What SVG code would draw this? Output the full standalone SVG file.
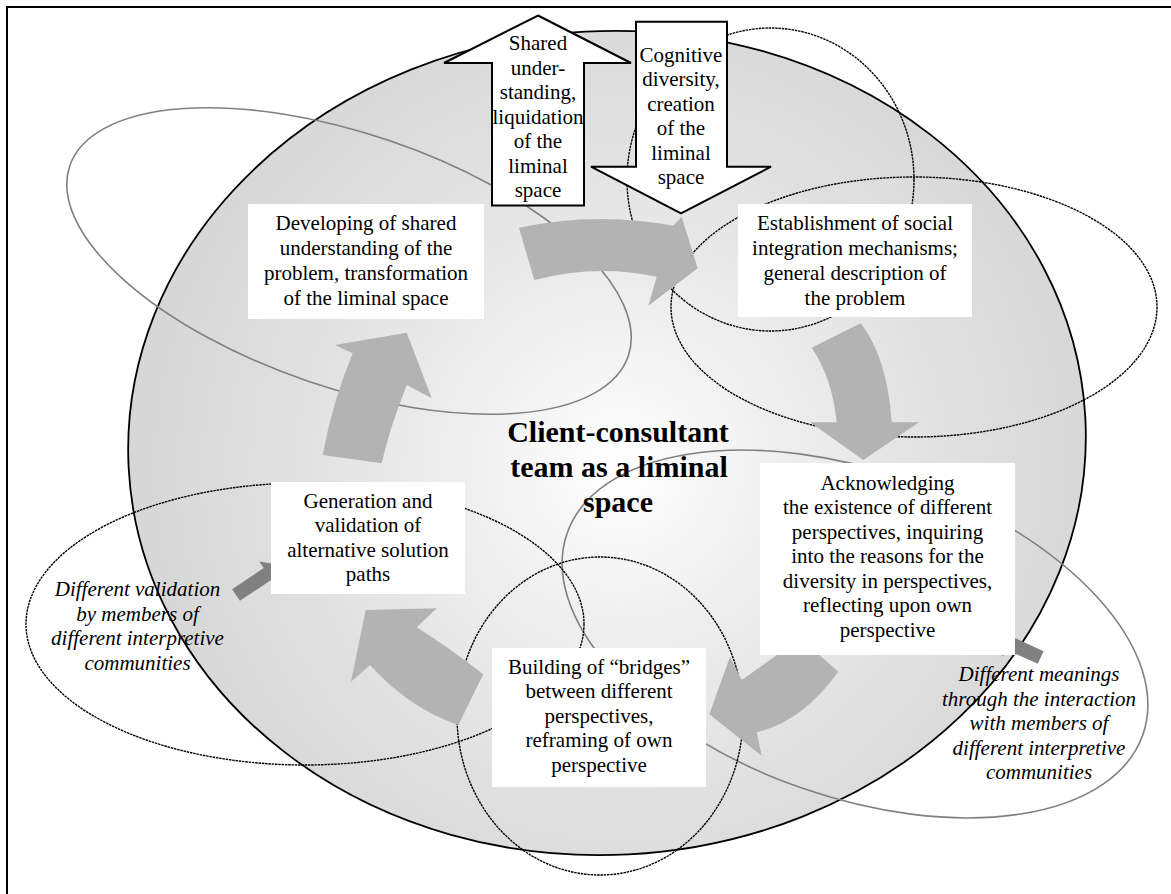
<svg xmlns="http://www.w3.org/2000/svg" width="1171" height="894" viewBox="0 0 1171 894">
  <defs>
    <radialGradient id="teamFill" gradientUnits="userSpaceOnUse" cx="620" cy="470" r="480">
      <stop offset="0" stop-color="#ffffff"/>
      <stop offset="0.35" stop-color="#eeeeee"/>
      <stop offset="0.7" stop-color="#e0e0e0"/>
      <stop offset="1" stop-color="#d7d7d7"/>
    </radialGradient>
    <style>
      text { font-family: "Liberation Serif", "Times New Roman", serif; font-size: 21px; fill: #000; text-anchor: middle; }
      .title { font-weight: bold; font-size: 30px; }
      .note { font-style: italic; }
      .box { fill: #ffffff; }
      .ring-gray { fill: none; stroke: #808080; stroke-width: 1.6; }
      .ring-dot { fill: none; stroke: #000000; stroke-width: 1.4; stroke-dasharray: 2.5 0.8; }
      .flow { fill: #b3b3b3; }
      .hint { fill: #808080; }
      .bigarrow { fill: #ffffff; stroke: #000000; stroke-width: 2; stroke-linejoin: miter; }
    </style>
  </defs>

  <!-- page -->
  <rect x="0" y="0" width="1171" height="894" fill="#ffffff"/>
  <path d="M7,900 V7 H1180" fill="none" stroke="#000" stroke-width="2"/>

  <!-- the team as a liminal space -->
  <g id="team-space">
    <ellipse cx="607" cy="443" rx="479" ry="412" transform="rotate(-3 607 443)" fill="url(#teamFill)" stroke="#000" stroke-width="1.8"/>
  </g>

  <!-- interpretive communities -->
  <g id="communities">
    <ellipse class="ring-gray" cx="349" cy="261" rx="295" ry="127" transform="rotate(18.8 349 261)"/>
    <ellipse class="ring-dot" cx="770.5" cy="179.5" rx="143.5" ry="151.5"/>
    <ellipse class="ring-dot" cx="914" cy="307" rx="243" ry="130"/>
    <ellipse class="ring-gray" cx="855" cy="634" rx="305" ry="163" transform="rotate(19.3 855 634)"/>
    <ellipse class="ring-dot" cx="305" cy="624" rx="279" ry="141"/>
    <ellipse class="ring-dot" cx="600" cy="716" rx="143" ry="159"/>
  </g>

  <!-- process flow -->
  <g id="connectors">
    <path class="flow" d="M519,227.7 Q596,211.3 673.3,225.7 L681.7,216.7 L697.7,268.3 L648.3,305.7 L656.7,276.7 Q596,263.6 534.3,280 Z"/>
    <path class="flow" d="M811.7,347.7 Q832.4,378.4 836.7,422.3 L810,422.3 L863.3,460 L919,422.3 L891.7,422.3 Q887.2,357.2 860.7,323.3 Z"/>
    <path class="flow" d="M800,637.7 Q768,662 741.7,680 L730,656.7 L709.3,714.3 L761.7,755.7 L756.7,732.3 Q802.5,721.4 838.3,671.7 Z"/>
    <path class="flow" d="M483.3,674.3 Q446.6,645.8 416.7,627.3 L436.7,608.3 L365.7,610 L351,681.7 L370,665 Q409.2,708.4 458.3,725 Z"/>
    <path class="flow" d="M322.7,455 Q332.3,402.4 352.7,353.3 L335,345 L406.7,332.7 L431.7,398.3 L406.7,385 Q389.2,429.2 381.7,463.3 Z"/>
    <polygon class="hint" points="0,-7 38,-7 38,-15 54,0 38,15 38,7 0,7" transform="translate(236 595) rotate(-33.7)"/>
    <polygon class="hint" points="0,-7 35,-7 35,-15 50,0 35,15 35,7 0,7" transform="translate(1040.7 657.5) rotate(204.4)"/>
  </g>

  <g id="step-developing">
    <rect class="box" x="248" y="204" width="236" height="115"/>
    <text x="366" y="230">Developing of shared</text>
    <text x="366" y="255">understanding of the</text>
    <text x="366" y="280">problem, transformation</text>
    <text x="366" y="305">of the liminal space</text>
  </g>

  <g id="step-establishment">
    <rect class="box" x="738" y="204" width="234" height="113"/>
    <text x="855" y="230">Establishment of social</text>
    <text x="855" y="255">integration mechanisms;</text>
    <text x="855" y="280">general description of</text>
    <text x="855" y="305">the problem</text>
  </g>

  <g id="step-acknowledging">
    <rect class="box" x="760" y="463" width="255" height="192"/>
    <text x="887.5" y="489.5">Acknowledging</text>
    <text x="887.5" y="514">the existence of different</text>
    <text x="887.5" y="538.5">perspectives, inquiring</text>
    <text x="887.5" y="563">into the reasons for the</text>
    <text x="887.5" y="587.5">diversity in perspectives,</text>
    <text x="887.5" y="612">reflecting upon own</text>
    <text x="887.5" y="636.5">perspective</text>
  </g>

  <g id="step-bridges">
    <rect class="box" x="492" y="648" width="214" height="139"/>
    <text x="599" y="673.5">Building of “bridges”</text>
    <text x="599" y="698">between different</text>
    <text x="599" y="722.5">perspectives,</text>
    <text x="599" y="747">reframing of own</text>
    <text x="599" y="771.5">perspective</text>
  </g>

  <g id="step-generation">
    <rect class="box" x="271" y="482" width="194" height="112"/>
    <text x="368" y="507.5">Generation and</text>
    <text x="368" y="532">validation of</text>
    <text x="368" y="556.5">alternative solution</text>
    <text x="368" y="581">paths</text>
  </g>

  <g id="title">
    <text class="title" x="618" y="442">Client-consultant</text>
    <text class="title" x="619" y="477">team as a liminal</text>
    <text class="title" x="618" y="512">space</text>
  </g>

  <g id="note-validation">
    <text class="note" x="137.5" y="596">Different validation</text>
    <text class="note" x="137.5" y="621">by members of</text>
    <text class="note" x="137.5" y="645">different interpretive</text>
    <text class="note" x="137.5" y="670">communities</text>
  </g>

  <g id="note-meanings">
    <text class="note" x="1039" y="681">Different meanings</text>
    <text class="note" x="1039" y="706">through the interaction</text>
    <text class="note" x="1039" y="730">with members of</text>
    <text class="note" x="1039" y="754.5">different interpretive</text>
    <text class="note" x="1039" y="779">communities</text>
  </g>

  <g id="shared-understanding">
    <polygon class="bigarrow" points="538,15.5 631,63 584,63 584,205.5 492,205.5 492,63 444,63"/>
    <text x="538" y="50">Shared</text>
    <text x="538" y="74.5">under-</text>
    <text x="538" y="99">standing,</text>
    <text x="538" y="123.5">liquidation</text>
    <text x="538" y="148">of the</text>
    <text x="538" y="172.5">liminal</text>
    <text x="538" y="197">space</text>
  </g>

  <g id="cognitive-diversity">
    <polygon class="bigarrow" points="636,21.7 727,21.7 727,166.7 771,166.7 681,213.3 591,166.7 636,166.7"/>
    <text x="681" y="61.5">Cognitive</text>
    <text x="681" y="86">diversity,</text>
    <text x="681" y="110.5">creation</text>
    <text x="681" y="135">of the</text>
    <text x="681" y="159.5">liminal</text>
    <text x="681" y="184">space</text>
  </g>
</svg>
